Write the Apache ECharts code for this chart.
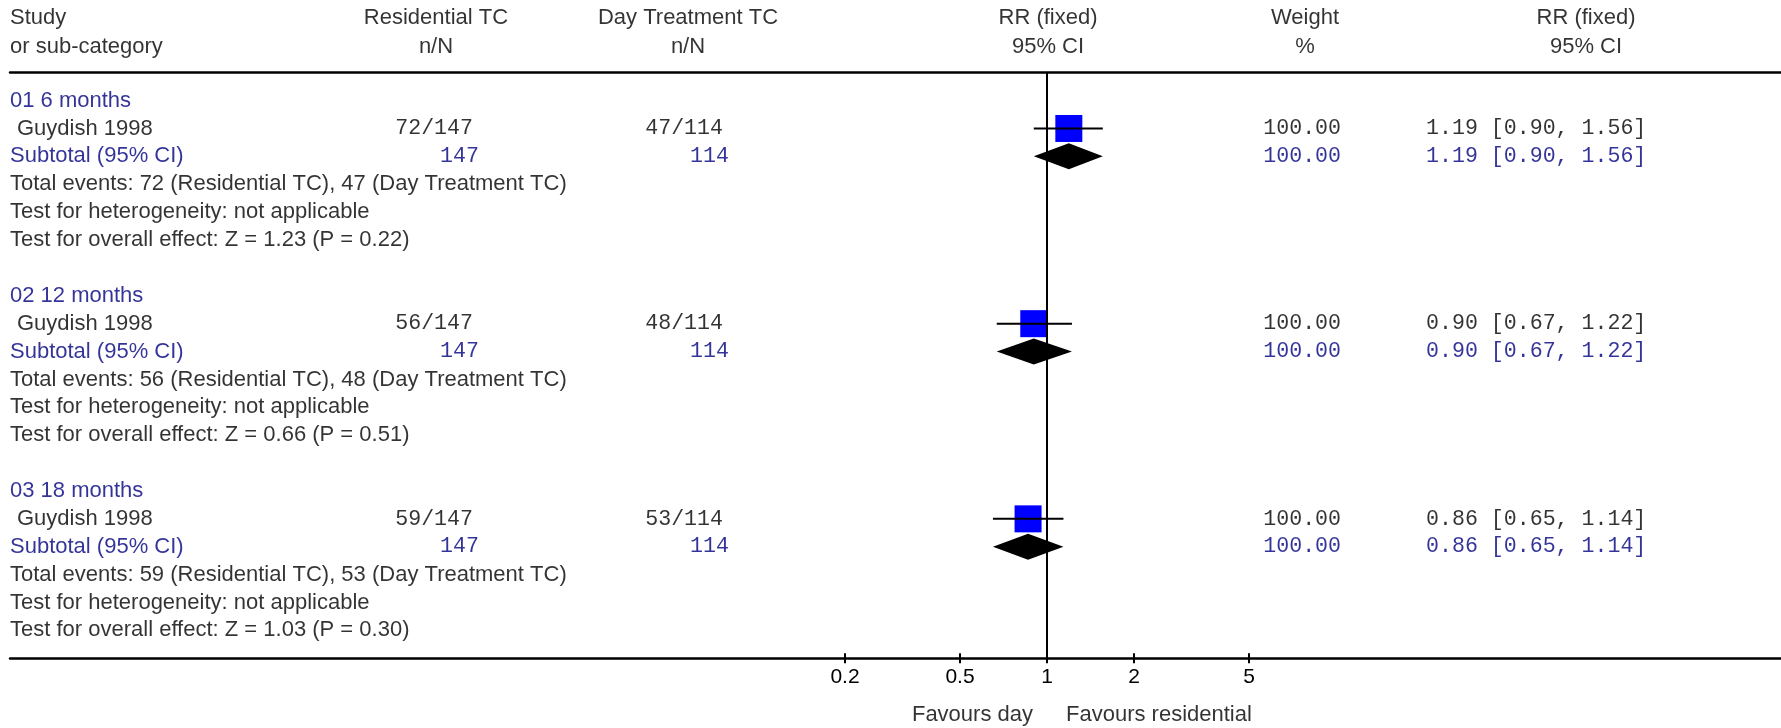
<!DOCTYPE html>
<html><head><meta charset="utf-8">
<script src="https://cdn.jsdelivr.net/npm/echarts@6/dist/echarts.min.js"></script>
<style>html,body{margin:0;padding:0;background:#fff}#c{width:1781px;height:728px}</style>
</head><body><div id="c"></div>
<script>
// ---------- data ----------
const groupNames = ['01 6 months', '02 12 months', '03 18 months'];
const studyNames = ['Guydish 1998', 'Guydish 1998', 'Guydish 1998'];
const resEvents = [72, 56, 59];
const resTotals = [147, 147, 147];
const dayEvents = [47, 48, 53];
const dayTotals = [114, 114, 114];
const weights = [100, 100, 100];
const rr = [1.19, 0.90, 0.86];
const ciLow = [0.90, 0.67, 0.65];
const ciHigh = [1.56, 1.22, 1.14];
const zValues = ['1.23', '0.66', '1.03'];
const pValues = ['0.22', '0.51', '0.30'];
const armNames = ['Residential TC', 'Day Treatment TC'];
const tickValues = [0.2, 0.5, 1, 2, 5];
const favourLabels = ['Favours day', 'Favours residential'];

// ---------- layout / style ----------
const ROWS_PER_GROUP = 7;
const SANS = '"Liberation Sans", Arial, sans-serif';
const MONO = '"Liberation Mono", "Courier New", monospace';
const SANS_SIZE = 22, MONO_SIZE = 21.6;
const NAVY = '#000080';
const col = {
  left: 10, indent: 17,
  resHead: 436, resStudy: 473, resSub: 479,
  dayHead: 688, dayStudy: 723, daySub: 729,
  plotHead: 1048, wHead: 1305, wRight: 1341,
  ciHead: 1586, ciLeft: 1426,
  favLeft: 1033, favRight: 1066
};
const fmt2 = v => v.toFixed(2);

const texts = [];
function txt(x, row, text, align, font, color) {
  texts.push({
    name: text, value: [x, row],
    label: { align: align, fontFamily: font === 'm' ? MONO : SANS,
             fontSize: font === 'm' ? MONO_SIZE : SANS_SIZE, color: color }
  });
}
// headers
txt(col.left, -2.95, 'Study', 'left', 's', '#000');
txt(col.left, -1.93, 'or sub-category', 'left', 's', '#000');
txt(col.resHead, -2.95, armNames[0], 'center', 's', '#000');
txt(col.resHead, -1.93, 'n/N', 'center', 's', '#000');
txt(col.dayHead, -2.95, armNames[1], 'center', 's', '#000');
txt(col.dayHead, -1.93, 'n/N', 'center', 's', '#000');
txt(col.plotHead, -2.95, 'RR (fixed)', 'center', 's', '#000');
txt(col.plotHead, -1.93, '95% CI', 'center', 's', '#000');
txt(col.wHead, -2.95, 'Weight', 'center', 's', '#000');
txt(col.wHead, -1.93, '%', 'center', 's', '#000');
txt(col.ciHead, -2.95, 'RR (fixed)', 'center', 's', '#000');
txt(col.ciHead, -1.93, '95% CI', 'center', 's', '#000');

const forestData = [];
groupNames.forEach((g, i) => {
  const b = i * ROWS_PER_GROUP;
  const ci = fmt2(rr[i]) + ' [' + fmt2(ciLow[i]) + ', ' + fmt2(ciHigh[i]) + ']';
  txt(col.left, b, g, 'left', 's', NAVY);
  txt(col.indent, b + 1, studyNames[i], 'left', 's', '#000');
  txt(col.resStudy, b + 1, resEvents[i] + '/' + resTotals[i], 'right', 'm', '#000');
  txt(col.dayStudy, b + 1, dayEvents[i] + '/' + dayTotals[i], 'right', 'm', '#000');
  txt(col.wRight, b + 1, fmt2(weights[i]), 'right', 'm', '#000');
  txt(col.ciLeft, b + 1, ci, 'left', 'm', '#000');
  txt(col.left, b + 2, 'Subtotal (95% CI)', 'left', 's', NAVY);
  txt(col.resSub, b + 2, String(resTotals[i]), 'right', 'm', NAVY);
  txt(col.daySub, b + 2, String(dayTotals[i]), 'right', 'm', NAVY);
  txt(col.wRight, b + 2, fmt2(weights[i]), 'right', 'm', NAVY);
  txt(col.ciLeft, b + 2, ci, 'left', 'm', NAVY);
  txt(col.left, b + 3, 'Total events: ' + resEvents[i] + ' (' + armNames[0] + '), ' + dayEvents[i] + ' (' + armNames[1] + ')', 'left', 's', '#000');
  txt(col.left, b + 4, 'Test for heterogeneity: not applicable', 'left', 's', '#000');
  txt(col.left, b + 5, 'Test for overall effect: Z = ' + zValues[i] + ' (P = ' + pValues[i] + ')', 'left', 's', '#000');
  forestData.push([Math.log10(rr[i]), Math.log10(ciLow[i]), Math.log10(ciHigh[i]), b + 1, 0, weights[i]]);
  forestData.push([Math.log10(rr[i]), Math.log10(ciLow[i]), Math.log10(ciHigh[i]), b + 2, 1, weights[i]]);
});
txt(col.favLeft, 22.03, favourLabels[0], 'right', 's', '#000');
txt(col.favRight, 22.03, favourLabels[1], 'left', 's', '#000');

const logTicks = tickValues.map(v => Math.log10(v));
function tickFmt(v) {
  for (const t of tickValues) if (Math.abs(Math.log10(t) - v) < 1e-6) return String(t);
  return '';
}
const gridTop = 72.7, gridBottom = 69.7;
const yBase = { type: 'value', inverse: true, min: -1, max: 20, show: false };

const chart = echarts.init(document.getElementById('c'), null, { renderer: 'canvas' });
chart.setOption({
  animation: false,
  backgroundColor: '#fff',
  grid: [
    { left: 10, right: 0, top: gridTop, bottom: gridBottom },
    { left: 758, width: 578, top: gridTop, bottom: gridBottom }
  ],
  xAxis: [
    { gridIndex: 0, type: 'value', min: 10, max: 1781, position: 'bottom',
      axisLine: { show: true, onZero: false, lineStyle: { color: '#000', width: 2.5 } },
      axisTick: { show: false }, axisLabel: { show: false }, splitLine: { show: false } },
    { gridIndex: 0, type: 'value', min: 10, max: 1781, position: 'top',
      axisLine: { show: true, onZero: false, lineStyle: { color: '#000', width: 2.5 } },
      axisTick: { show: false }, axisLabel: { show: false }, splitLine: { show: false } },
    { gridIndex: 1, type: 'value', min: -1, max: 1, position: 'bottom',
      axisLine: { show: false, onZero: false }, splitLine: { show: false },
      axisTick: { show: true, customValues: logTicks, length: 5, lineStyle: { color: '#000', width: 2 } },
      axisLabel: { show: true, customValues: logTicks, formatter: tickFmt, margin: 8,
                   fontFamily: SANS, fontSize: SANS_SIZE - 1, color: '#000' } },
    { gridIndex: 1, type: 'value', min: -1, max: 1, position: 'bottom',
      axisLine: { show: false, onZero: false }, splitLine: { show: false },
      axisTick: { show: true, inside: true, customValues: logTicks, length: 5, lineStyle: { color: '#000', width: 2 } },
      axisLabel: { show: false } }
  ],
  yAxis: [
    Object.assign({ gridIndex: 0 }, yBase),
    Object.assign({ gridIndex: 1 }, yBase)
  ],
  series: [
    {
      type: 'scatter', xAxisIndex: 0, yAxisIndex: 0, symbolSize: 0, clip: false, silent: true,
      label: { show: true, position: [0, 0], verticalAlign: 'middle', formatter: '{b}' },
      data: texts, z: 5
    },
    {
      type: 'custom', xAxisIndex: 2, yAxisIndex: 1, z: 3, silent: true,
      data: forestData,
      renderItem: function (params, api) {
        const y = api.value(3), kind = api.value(4);
        const c = api.coord([api.value(0), y]);
        const l = api.coord([api.value(1), y]);
        const h = api.coord([api.value(2), y]);
        if (kind === 0) {
          const s = 27 * Math.sqrt(api.value(5) / 100);
          return { type: 'group', children: [
            { type: 'rect', shape: { x: c[0] - s / 2, y: c[1] - s / 2, width: s, height: s }, style: { fill: '#0000ff' } },
            { type: 'line', shape: { x1: l[0], y1: c[1], x2: h[0], y2: c[1] }, style: { stroke: '#000', lineWidth: 2 } }
          ] };
        }
        return { type: 'polygon',
          shape: { points: [[l[0], c[1]], [c[0], c[1] - 13], [h[0], c[1]], [c[0], c[1] + 13]] },
          style: { fill: '#000' } };
      },
      markLine: {
        silent: true, symbol: 'none', label: { show: false },
        lineStyle: { color: '#000', width: 2, type: 'solid' },
        data: [{ xAxis: Math.log10(1) }]
      }
    }
  ]
});
</script>
</body></html>
